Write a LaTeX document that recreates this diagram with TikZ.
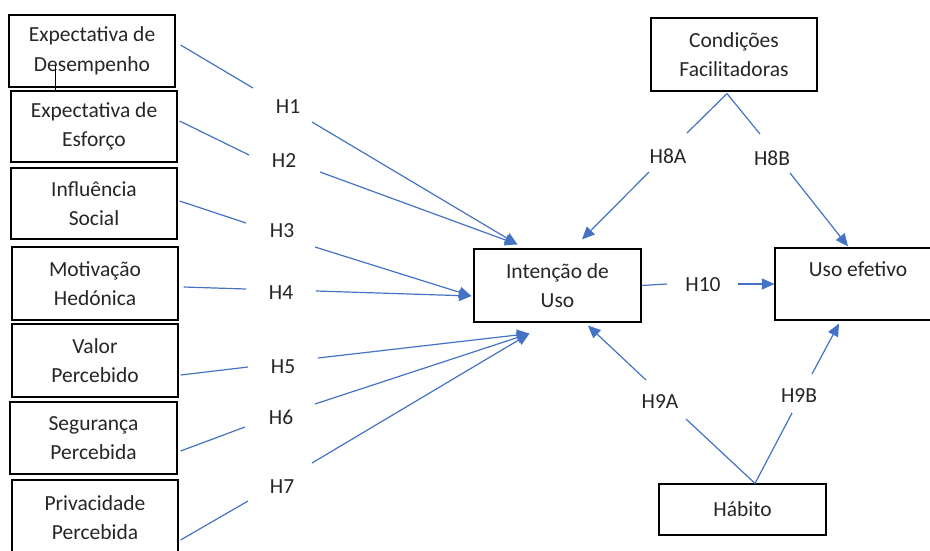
\documentclass[tikz,border=0pt]{standalone}
\usepackage{fontspec}
\setmainfont{Carlito}
\usetikzlibrary{arrows.meta}
\definecolor{lineblue}{RGB}{68,114,196}
\definecolor{txt}{RGB}{38,38,38}
\begin{document}
\begin{tikzpicture}[x=1pt,y=-1pt,
  box/.style={draw=black, line width=1.2pt, minimum width=166pt, minimum height=72pt,
    align=center, text=txt, inner sep=0pt, font=\fontsize{21.5}{29.5}\selectfont},
  hlab/.style={text=txt, inner sep=0pt, font=\fontsize{21.5}{29.5}\selectfont},
  conn/.style={draw=lineblue, line width=1.2pt},
  arr/.style={conn, -{Triangle[length=12.5pt,width=11pt]}}]
\useasboundingbox (0,0) rectangle (930,550);
\clip (0,0) rectangle (930,550);
% left boxes
\node[box] (b1) at (92,51) {Expectativa de\\Desempenho};
\node[box, minimum height=71pt] (b2) at (94,126.5) {Expectativa de\\Esforço};
\node[box, minimum height=71pt] (b3) at (94,203.5) {Influência\\Social};
\node[box, minimum height=73pt] (b4) at (95,283.5) {Motivação\\Hedónica};
\node[box, minimum height=73pt] (b5) at (95,360.5) {Valor\\Percebido};
\node[box, minimum width=167pt] (b6) at (93.5,438) {Segurança\\Percebida};
\node[box, minimum height=75pt] (b7) at (95,517.5) {Privacidade\\Percebida};
\draw[black, line width=0.8pt] (55,65) -- (55,90);
% central and right boxes
\node[box, minimum width=167pt, minimum height=73pt] (iu) at (557.5,285.5) {Intenção de\\Uso};
\node[box, minimum height=73pt] (cf) at (734,54.5) {Condições\\Facilitadoras};
\node[box, minimum height=72pt] (ue) at (858,284) {Uso efetivo\\\mbox{}};
\node[box, minimum width=167pt, minimum height=51pt] (hb) at (742.5,509.5) {Hábito};
% labels
\node[hlab] (h1) at (288,107) {H1};
\node[hlab] (h2) at (284,161) {H2};
\node[hlab] (h3) at (282,231) {H3};
\node[hlab] (h4) at (281,293) {H4};
\node[hlab] (h5) at (283,367) {H5};
\node[hlab] (h6) at (281,417) {H6};
\node[hlab] (h7) at (282,487) {H7};
\node[hlab] (h8a) at (668,156) {H8A};
\node[hlab] (h8b) at (772,158) {H8B};
\node[hlab] (h10) at (703,285) {H10};
\node[hlab] (h9a) at (660,402) {H9A};
\node[hlab] (h9b) at (799,396) {H9B};
% arrow tips
\coordinate (tA) at ([shift={(44,-4)}]iu.north west);
\coordinate (tB) at ([shift={(-2,10.5)}]iu.west);
\coordinate (tC) at ([shift={(56,11)}]iu.south west);
% H1
\draw[conn] ([shift={(5,-6)}]b1.east) -- ([shift={(-35,-19)}]h1.center);
\draw[arr] ([shift={(24,15)}]h1.center) -- (tA);
% H2
\draw[conn] ([shift={(2,-5.5)}]b2.east) -- ([shift={(-35,-6)}]h2.center);
\draw[arr] ([shift={(36,11)}]h2.center) -- (tA);
% H3
\draw[conn] ([shift={(2,-2.5)}]b3.east) -- ([shift={(-36,-8)}]h3.center);
\draw[arr] ([shift={(33,16)}]h3.center) -- (tB);
% H4
\draw[conn] ([shift={(5,3.5)}]b4.east) -- ([shift={(-35,-4)}]h4.center);
\draw[arr] ([shift={(35,-2)}]h4.center) -- (tB);
% H5
\draw[conn] ([shift={(2,14.5)}]b5.east) -- ([shift={(-35,0)}]h5.center);
\draw[arr] ([shift={(35,-9)}]h5.center) -- (tC);
% H6
\draw[conn] ([shift={(3,13)}]b6.east) -- ([shift={(-36,10)}]h6.center);
\draw[arr] ([shift={(34,-13)}]h6.center) -- (tC);
% H7
\draw[conn] ([shift={(2,22.5)}]b7.east) -- ([shift={(-34,14)}]h7.center);
\draw[arr] ([shift={(30,-24)}]h7.center) -- (tC);
% H8A / H8B
\draw[conn] ([shift={(-7,2)}]cf.south) -- ([shift={(19,-23)}]h8a.center);
\draw[arr] ([shift={(-19,16)}]h8a.center) -- ([shift={(24.5,-9)}]iu.north);
\draw[conn] ([shift={(-7,2)}]cf.south) -- ([shift={(-12,-24)}]h8b.center);
\draw[arr] ([shift={(18,15)}]h8b.center) -- ([shift={(-10,-1)}]ue.north);
% H10
\draw[conn] (iu.east) -- ([shift={(-36,-1)}]h10.center);
\draw[arr] ([shift={(35,-1)}]h10.center) -- (ue.west);
% H9A / H9B
\draw[conn] ([shift={(12.5,0)}]hb.north) -- ([shift={(26,17)}]h9a.center);
\draw[arr] ([shift={(-14,-22)}]h9a.center) -- ([shift={(30.5,3)}]iu.south);
\draw[conn] ([shift={(12.5,0)}]hb.north) -- ([shift={(-7,17)}]h9b.center);
\draw[arr] ([shift={(13,-22)}]h9b.center) -- ([shift={(-19,3)}]ue.south);
\end{tikzpicture}
\end{document}
